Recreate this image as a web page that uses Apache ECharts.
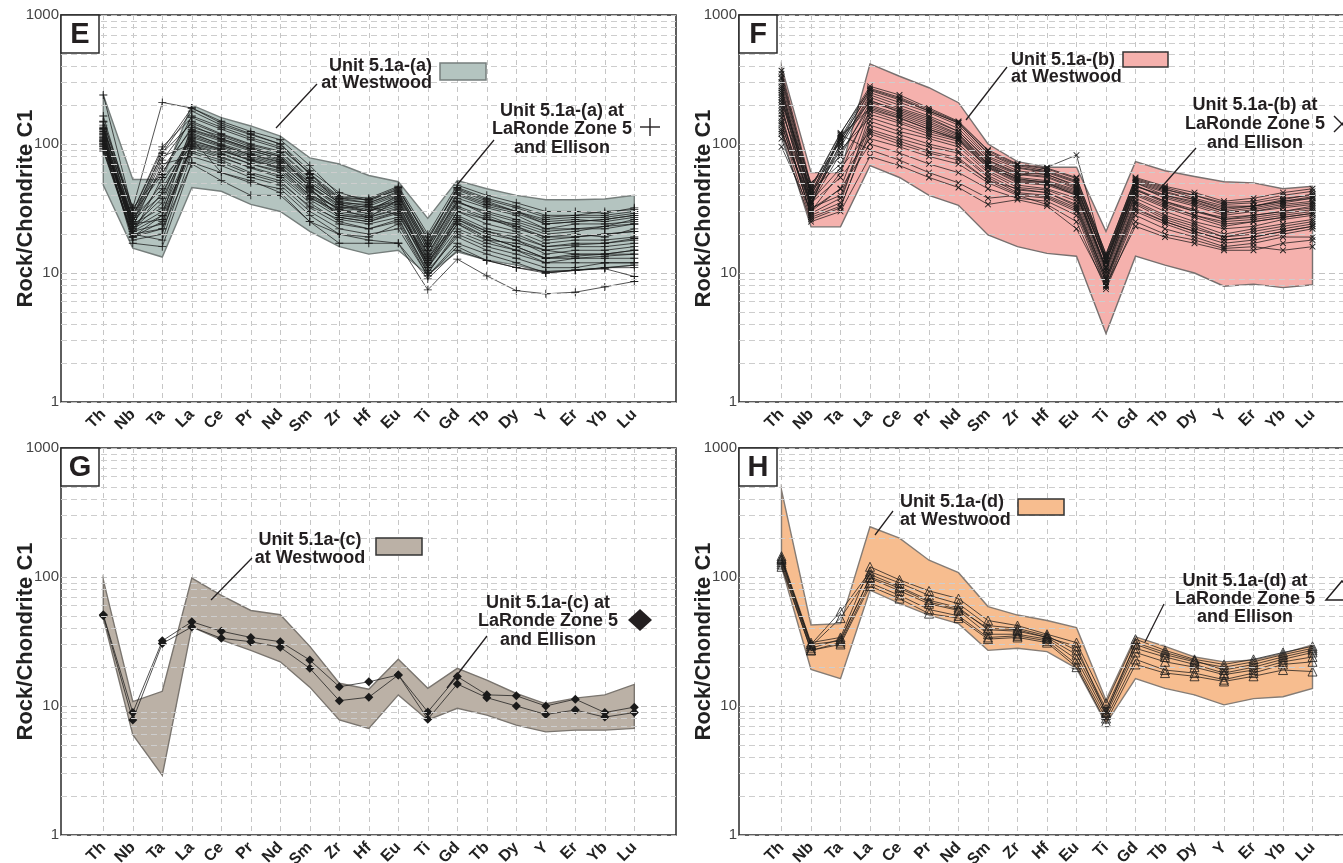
<!DOCTYPE html>
<html><head><meta charset="utf-8">
<script src="https://cdn.jsdelivr.net/npm/echarts@6/dist/echarts.min.js"></script>
<style>html,body{margin:0;padding:0;background:#fff}#chart{width:1343px;height:863px}</style>
</head><body><div id="chart"></div>
<script>
// ---------- DATA ----------
const elements = ['Th','Nb','Ta','La','Ce','Pr','Nd','Sm','Zr','Hf','Eu','Ti','Gd','Tb','Dy','Y','Er','Yb','Lu'];
const minorGridValues = [2,3,4,5,6,7,8,9,20,30,40,50,60,70,80,90,200,300,400,500,600,700,800,900];

// Panel E: Unit 5.1a-(a)
const envE_upper = [240,53,53,200,160,138,115,78,70,57,51,26.5,52,45,40,37,37,37.5,40];
const envE_lower = [48,15.6,13.3,46,43,34,30,21,16,14,15,9.7,14.6,12.6,11.5,10.2,10.5,10.9,11.5];
const samplesE = [
  [240,30,90,190,150,125,108,68,40,38,47,20,48,40,35,30,30,29,32],
  [165,28,85,180,140,118,100,62,42,36,45,18,46,38,33,28,28,30,31],
  [140,25,75,150,120,100,88,55,38,35,42,17,42,35,30,25,26,25,27],
  [130,32,60,135,115,95,82,52,36,33,40,15,38,32,28,22,24,24,25],
  [120,22,35,125,105,88,78,48,33,30,38,14,35,30,26,22,22,22,24],
  [115,20,22,118,100,85,75,50,35,32,36,13,30,26,24,20,21,23,24],
  [110,24,50,112,95,80,70,45,30,28,33,12,28,22,20,16,17,17,18],
  [105,18,20,105,92,78,68,42,28,26,30,11,26,20,18,14,15,15,16],
  [100,26,80,100,88,75,65,40,32,33,28,12,24,18,17,15,14,14,14],
  [98,22,30,98,85,70,60,38,30,30,35,11,22,18,15,12,13,13,13],
  [95,20,55,95,80,65,55,35,25,22,25,10,20,16,14,12,12,12,12],
  [92,19,25,88,75,60,52,32,24,22,26,10.5,19,15,13,11,11,12,12],
  [125,23,70,80,68,55,48,30,22,20,22,9.5,17,14,12,10,10.5,11,11.5],
  [105,17,16,72,60,52,42,25,17,17,17,9,15,12.5,11,10,10.5,11,11],
  [88,19,22,70,52,40,40,25,20,18,17,7.4,12.8,9.5,7.3,6.9,7.1,7.8,8.6],
  [150,32,210,190,145,120,100,58,38,37,44,19,44,36,30,24,25,26,28],
  [135,30,95,160,130,108,92,60,34,30,40,16,36,28,23,18,19,20,21],
  [112,21,28,140,110,92,80,46,27,25,30,13,25,19,16,13,13.5,14,15],
  [100,27,45,110,60,50,45,28,20,19,24,9.5,16,12.5,11,10.3,10.5,10.8,9.4],
  [118,24,32,122,98,82,72,44,31,27,37,14,33,27,22,19,20,19,22],
  [128,26,40,128,108,90,76,47,34,31,39,15,36,29,25,21,22,23,26],
  [108,21,24,102,90,74,64,40,29,27,31,12,27,21,18,15,16,16,17],
  [122,25,65,130,110,92,80,50,35,34,41,16,40,33,29,24,25,26,28],
  [102,23,38,108,90,76,66,43,31,29,34,12.5,30,24,21,17,18,18,19],
  [96,19,28,92,78,66,57,37,27,25,29,11,24,19,16,13,14,14,15],
  [132,27,85,145,118,98,86,54,37,35,43,16.5,41,34,30,26,27,27,29],
  [113,22,42,115,97,83,73,47,32,30,36,13.5,32,26,23,19,19,20,21],
  [90,20,18,85,72,58,50,33,26,24,27,10,21,17,15,13,13,13.5,14],
  [148,29,58,165,135,112,95,59,39,37,46,18,45,37,32,27,28,28,30],
  [107,24,26,96,83,70,62,39,28,27,32,11.5,26,21,19,16,16.5,17,18.5]
];

// Panel F: Unit 5.1a-(b)
const envF_upper = [400,60,60,418,335,273,209,100,73,66,66,21,73,62,56,51,50,45,47];
const envF_lower = [120,22.8,22.8,68,55,40,33.5,19.7,16,14.2,13.5,3.4,13.5,11.5,10,7.9,8.2,7.7,8.1];
const samplesF = [
  [350,45,120,280,240,190,150,90,70,65,55,14,55,47,42,36,38,42,45],
  [300,40,110,250,210,175,140,80,65,60,50,13,52,44,40,34,35,38,40],
  [260,35,100,230,190,160,125,75,60,58,48,12,50,40,36,30,32,35,38],
  [220,50,80,210,180,150,120,72,58,55,45,12.5,48,38,33,28,30,32,34],
  [200,30,60,200,170,140,115,70,55,52,44,11,45,36,30,26,28,30,32],
  [180,42,115,190,160,130,110,68,52,50,42,10.5,42,34,28,25,26,28,30],
  [160,28,35,170,145,120,105,65,50,48,40,10,40,32,27,23,25,27,29],
  [150,38,90,160,135,115,100,62,48,45,38,9.5,38,30,25,22,23,26,28],
  [140,32,40,150,125,110,95,60,46,44,36,9,36,28,24,20,22,24,26],
  [130,26,32,130,110,95,85,55,42,40,32,8.5,34,26,22,19,20,22,24],
  [120,35,55,110,95,80,70,50,40,38,30,8,30,24,20,17,18,20,22],
  [95,30,45,100,85,70,60,45,38,36,28,7.8,28,22,19,16,17,19,19],
  [240,33,118,90,75,60,50,38,40,34,25,7.5,25,20,18,15.5,16,15,16],
  [370,48,105,260,220,180,145,85,68,62,52,13.5,53,45,38,33,33,36,38],
  [280,36,95,220,175,145,118,70,56,66,82,12,44,35,30,27,28,30,33],
  [170,27,33,120,100,85,75,52,45,42,33,9,32,25,21,18,19,21,23],
  [210,44,70,180,150,125,108,66,54,50,40,11,47,40,35,30,30,33,35],
  [110,25,30,80,68,55,46,34,37,33,22,8,23,19,17,15,15,17,18],
  [320,42,112,270,230,185,148,88,69,64,54,14,54,46,40,35,36,40,43],
  [250,38,100,240,200,165,132,78,62,58,47,12.5,50,42,37,31,33,36,39],
  [190,34,85,195,165,135,112,69,53,51,43,11,44,36,31,26,27,29,31],
  [230,31,45,185,158,130,108,66,51,49,41,10.5,41,33,28,24,25,27,29],
  [145,29,38,140,118,100,88,57,44,42,34,9,35,27,23,19,21,23,25],
  [125,36,65,125,105,88,78,52,41,39,31,8.5,31,25,21,18,19,21,23],
  [330,46,122,265,225,180,146,84,66,61,51,13,51,43,37,32,33,37,41],
  [270,40,108,215,185,155,125,74,59,56,46,12,47,39,34,29,31,34,36]
];

// Panel G: Unit 5.1a-(c)
const envG_upper = [95,10.8,13,98,72,55,51,29,15,13.5,23,13.7,19.6,15.9,12.5,10.4,11.5,12.2,14.7];
const envG_lower = [48,6,2.9,41,32.5,27,22,14,7.8,6.7,12.2,7.8,9.6,8.5,7.1,6.3,6.5,6.5,6.7];
const samplesG = [
  [51,8.9,32,45,38,34,31.5,22.7,14.1,15.4,17.4,9,16.9,12.2,12,10,11.3,8.9,9.8],
  [50,7.8,30.5,41,33.5,31.5,28.5,19.6,11,11.7,17.4,7.9,14.8,11.6,10,8.6,9.3,8.2,8.9]
];

// Panel H: Unit 5.1a-(d)
const envH_upper = [472,42.5,43.5,245,200,135,108,59,50.7,46,40.5,11.1,34.4,29,24,22,22.7,25.6,29.7];
const envH_lower = [120,19.2,16.3,79,62.5,50.7,43.5,27,28,26.4,19.6,7.3,16.3,13.7,12.2,10.2,11.4,11.8,13.7];
const samplesH = [
  [145,31,34,120,95,78,68,46,42,36,31,10.5,33,27,23,21,23,26,29],
  [140,30,54,110,90,72,62,42,40,35,27,9.5,30,25,22,20,22,25,28],
  [135,29,48,105,84,66,58,39,38,34,25,9,28,24,21,18,20,23,26],
  [130,28,33,98,78,62,55,36,36,33,23,8.5,26,22,20,17.5,19,22,24],
  [125,27,31,90,72,56,50,34,35,32,21,8,23,19,18,16,18,21,22],
  [120,27,30,85,68,52,48,33,34,31,20,7.5,21,18,17,15.5,17,19,18.5],
  [138,30,32,100,82,64,56,40,39,34,29,8.8,31,26,22.5,19,21,24,27]
];

// ---------- LAYOUT / STYLE ----------
const FONT = '"Liberation Sans", Arial, Helvetica, sans-serif';
const plusPath = 'path://M-1,-0.11H1V0.11H-1Z M-0.11,-1H0.11V1H-0.11Z';
const panels = [
  {key:'E', fl:61,  top:15,  fw:615, dl:103.3, upper:envE_upper, lower:envE_lower, fill:'#b4c4c0', stroke:'#767e7c', samples:samplesE,
   sym:{symbol:plusPath, size:8, rotate:0, color:'#1a1a1a', border:'#1a1a1a', bw:0}},
  {key:'F', fl:739, top:15,  fw:606, dl:781.5, upper:envF_upper, lower:envF_lower, fill:'#f5b1ad', stroke:'#77706f', samples:samplesF,
   sym:{symbol:plusPath, size:8, rotate:45, color:'#1a1a1a', border:'#1a1a1a', bw:0}},
  {key:'G', fl:61,  top:448, fw:615, dl:103.3, upper:envG_upper, lower:envG_lower, fill:'#bbb1a6', stroke:'#7a756f', samples:samplesG,
   sym:{symbol:'diamond', size:9, rotate:0, color:'#1a1a1a', border:'#1a1a1a', bw:0}},
  {key:'H', fl:739, top:448, fw:606, dl:781.5, upper:envH_upper, lower:envH_lower, fill:'#f7bd8f', stroke:'#857c75', samples:samplesH,
   sym:{symbol:'triangle', size:9, rotate:0, color:'rgba(255,255,255,0)', border:'#1a1a1a', bw:0.8}}
];
const PH = 387, DW = 531;

const grid = [], xAxis = [], yAxis = [], series = [], graphic = [];
panels.forEach((p, k) => {
  const gf = 2*k, gd = 2*k+1;
  grid.push({left:p.fl, top:p.top, width:p.fw, height:PH, show:true, borderColor:'#2a2a2a', borderWidth:1.5,
             backgroundColor:'transparent', containLabel:false, outerBoundsMode:'none'});
  grid.push({left:p.dl, top:p.top, width:DW, height:PH, show:false, containLabel:false, outerBoundsMode:'none'});
  xAxis.push({gridIndex:gf, type:'value', min:0, max:1, show:false});
  xAxis.push({gridIndex:gd, type:'category', data:elements, boundaryGap:false,
    axisLine:{show:false}, axisTick:{show:false},
    axisLabel:{interval:0, rotate:45, margin:10, fontSize:16, fontWeight:'bold', color:'#222', fontFamily:FONT},
    splitLine:{show:true, interval:0, lineStyle:{type:[5,4], color:'#c6c6c6', width:1}}});
  yAxis.push({gridIndex:gf, type:'log', logBase:10, min:1, max:1000, splitNumber:3,
    axisLine:{show:false}, axisTick:{show:false},
    axisLabel:{show:true, margin:2, fontSize:15, color:'#444', fontFamily:FONT, formatter:v=>String(Math.round(v))},
    splitLine:{show:true, lineStyle:{type:[6,4], color:'#c2c2c2', width:1}},
    name:'Rock/Chondrite C1', nameLocation:'middle', nameGap:24, nameMoveOverlap:false,
    nameTextStyle:{fontSize:22, fontWeight:'bold', color:'#222', fontFamily:FONT}});
  yAxis.push({gridIndex:gd, type:'log', logBase:10, min:1, max:1000, show:false});

  // minor horizontal grid lines
  series.push({type:'line', xAxisIndex:gf, yAxisIndex:gf, data:[], silent:true,
    markLine:{silent:true, symbol:['none','none'], label:{show:false}, animation:false,
      lineStyle:{type:[6,4], color:'#cdcdcd', width:1},
      data:minorGridValues.map(v=>({yAxis:v}))}});

  // envelope polygon
  const up = p.upper, lo = p.lower;
  series.push({type:'custom', xAxisIndex:gd, yAxisIndex:gd, data:[[0,1]], silent:true, z:2, clip:false,
    renderItem:(params, api) => {
      const pts = up.map((v,i)=>api.coord([i,v])).concat(lo.map((v,i)=>api.coord([i,v])).reverse());
      return {type:'polygon', shape:{points:pts}, style:{fill:p.fill, stroke:p.stroke, lineWidth:1.4}};
    }});

  // sample lines
  p.samples.forEach(s => {
    series.push({type:'line', xAxisIndex:gd, yAxisIndex:gd, data:s, z:3, silent:true, animation:false,
      symbol:p.sym.symbol, symbolSize:p.sym.size, symbolRotate:p.sym.rotate, showAllSymbol:true,
      lineStyle:{color:'#1a1a1a', width:0.75},
      itemStyle:{color:p.sym.color, borderColor:p.sym.border, borderWidth:p.sym.bw}});
  });

  // panel letter box
  graphic.push({type:'rect', z:100, shape:{x:p.fl, y:p.top, width:38, height:38},
    style:{fill:'#fff', stroke:'#2a2a2a', lineWidth:1.5}});
  graphic.push({type:'text', z:101, style:{x:p.fl+19, y:p.top+20, text:p.key, align:'center', verticalAlign:'middle',
    font:'bold 29px ' + FONT, fill:'#231f20'}});
});

// annotations
function note(x, y, text, align, lh){
  graphic.push({type:'text', z:100, style:{x, y, text, align, verticalAlign:'middle', lineHeight:lh,
    font:'bold 18px ' + FONT, fill:'#231f20'}});
}
function seg(x1,y1,x2,y2,w){
  graphic.push({type:'line', z:100, shape:{x1,y1,x2,y2}, style:{stroke:'#231f20', lineWidth:w||1.3}});
}
function swatch(x,y,w,h,fill,stroke){
  graphic.push({type:'rect', z:100, shape:{x,y,width:w,height:h}, style:{fill, stroke, lineWidth:1.5}});
}
// E
note(432, 74.5, 'Unit 5.1a-(a)\nat Westwood', 'right', 17);
swatch(440, 63, 46, 17, '#b4c4c0', '#767e7c');
seg(317, 84, 276, 128);
note(562, 129.5, 'Unit 5.1a-(a) at\nLaRonde Zone 5\nand Ellison', 'center', 18.5);
seg(494, 140, 457, 185);
seg(640, 127, 660, 127, 1.4); seg(650, 118, 650, 136, 1.4);
// F
note(1011, 68.5, 'Unit 5.1a-(b)\nat Westwood', 'left', 17);
swatch(1123, 52, 45, 15, '#f5b1ad', '#333');
seg(1007, 67, 966, 120);
note(1255, 124, 'Unit 5.1a-(b) at\nLaRonde Zone 5\nand Ellison', 'center', 19);
seg(1196, 148, 1159, 190);
seg(1334, 116, 1350, 132, 1.4); seg(1334, 132, 1350, 116, 1.4);
// G
note(310, 549, 'Unit 5.1a-(c)\nat Westwood', 'center', 18);
swatch(376, 538, 46, 17, '#bbb1a6', '#333');
seg(252, 558, 211, 600);
note(548, 621.5, 'Unit 5.1a-(c) at\nLaRonde Zone 5\nand Ellison', 'center', 18.5);
seg(487, 636, 447, 688);
graphic.push({type:'polygon', z:100, shape:{points:[[640,609],[652,620],[640,631],[628,620]]}, style:{fill:'#231f20'}});
// H
note(900, 511, 'Unit 5.1a-(d)\nat Westwood', 'left', 18);
swatch(1018, 499, 46, 16, '#f7bd8f', '#333');
seg(893, 511, 875, 535);
note(1245, 599, 'Unit 5.1a-(d) at\nLaRonde Zone 5\nand Ellison', 'center', 18);
seg(1164, 604, 1145, 642);
graphic.push({type:'polygon', z:100, shape:{points:[[1342,581],[1358,600],[1326,600]]}, style:{fill:'#fff', stroke:'#231f20', lineWidth:1.5}});

const chart = echarts.init(document.getElementById('chart'), null, {renderer:'canvas'});
chart.setOption({animation:false, backgroundColor:'#fff', grid, xAxis, yAxis, series, graphic});
</script></body></html>
